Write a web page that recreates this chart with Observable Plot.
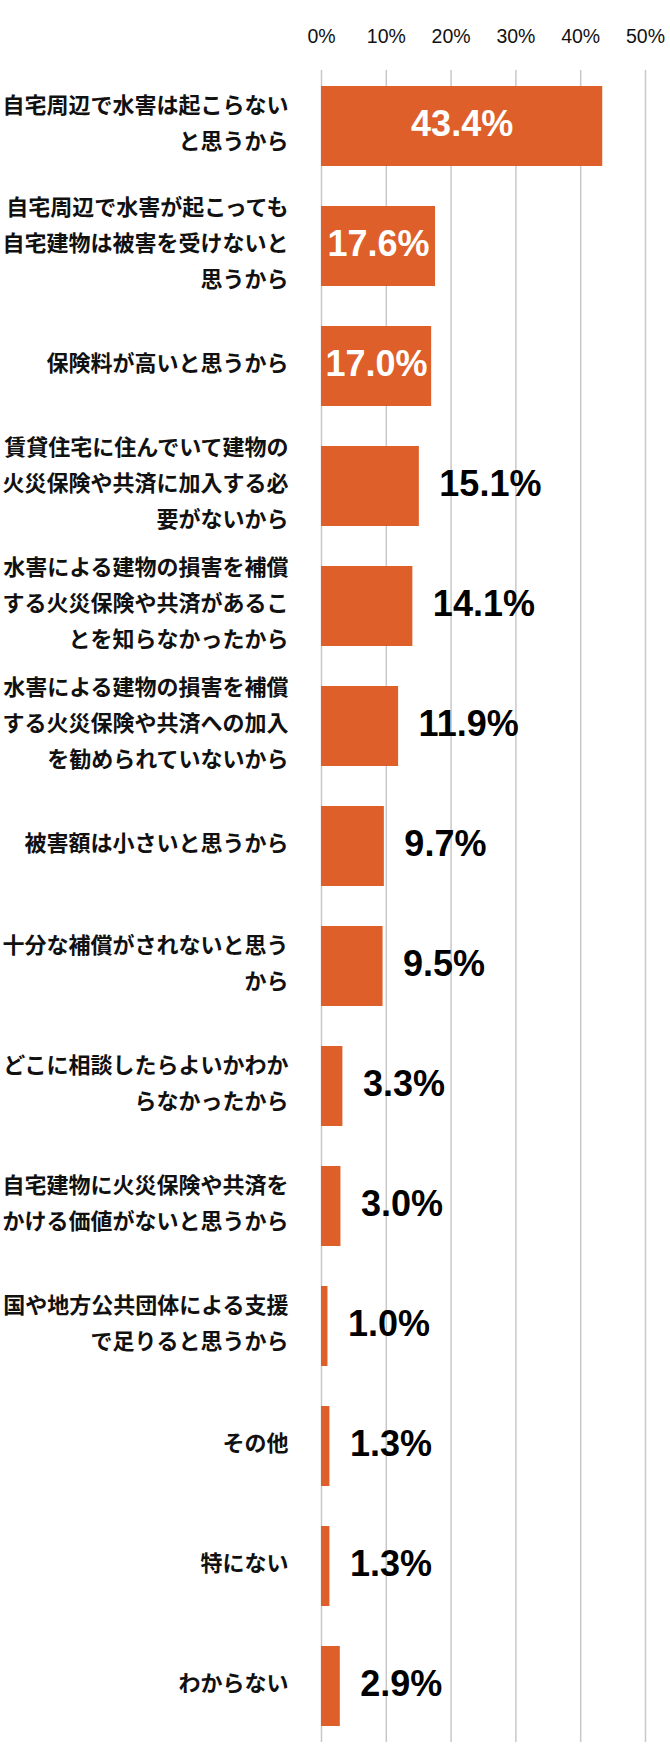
<!DOCTYPE html>
<html>
<head>
<meta charset="utf-8">
<script src="https://cdn.jsdelivr.net/npm/d3@7"></script>
<script src="https://cdn.jsdelivr.net/npm/@observablehq/plot@0.6"></script>
<style>
  html, body { margin: 0; padding: 0; background: #ffffff; }
  #chart svg { display: block; }
</style>
</head>
<body>
<div id="chart"></div>
<script>
const categories = [
  "自宅周辺で水害は起こらない\nと思うから",
  "自宅周辺で水害が起こっても\n自宅建物は被害を受けないと\n思うから",
  "保険料が高いと思うから",
  "賃貸住宅に住んでいて建物の\n火災保険や共済に加入する必\n要がないから",
  "水害による建物の損害を補償\nする火災保険や共済があるこ\nとを知らなかったから",
  "水害による建物の損害を補償\nする火災保険や共済への加入\nを勧められていないから",
  "被害額は小さいと思うから",
  "十分な補償がされないと思う\nから",
  "どこに相談したらよいかわか\nらなかったから",
  "自宅建物に火災保険や共済を\nかける価値がないと思うから",
  "国や地方公共団体による支援\nで足りると思うから",
  "その他",
  "特にない",
  "わからない"
];
const values = [43.4, 17.6, 17.0, 15.1, 14.1, 11.9, 9.7, 9.5, 3.3, 3.0, 1.0, 1.3, 1.3, 2.9];
const ticks = [0, 10, 20, 30, 40, 50];

const data = categories.map((c, i) => ({category: c, value: values[i], label: values[i].toFixed(1) + "%"}));
const inside = data.filter(d => d.value >= 17);
const outside = data.filter(d => d.value < 17);

const chart = Plot.plot({
  width: 670,
  height: 1762,
  marginTop: 70,
  marginBottom: 20,
  marginLeft: 321,
  marginRight: 25,
  style: {background: "#ffffff"},
  x: {domain: [0, 50], axis: null, label: null},
  y: {domain: categories, axis: null, label: null, paddingInner: 0.333, paddingOuter: 0.13},
  marks: [
    Plot.ruleX(ticks, {stroke: "#c8c8c8", strokeWidth: 1.5}),
    Plot.barX(data, {x: "value", y: "category", fill: "#DE5F2A"}),
    Plot.text(inside, {x: d => d.value / 2, y: "category", text: "label", fill: "#ffffff",
      fontSize: 36, fontWeight: "bold", fontFamily: "Liberation Sans, Arial, sans-serif", dy: -2}),
    Plot.text(outside, {x: "value", y: "category", text: "label", textAnchor: "start", dx: 20, dy: -2,
      fill: "#000000", fontSize: 36, fontWeight: "bold", fontFamily: "Liberation Sans, Arial, sans-serif"}),
    Plot.text(data, {x: 0, y: "category", text: "category", textAnchor: "end", dx: -33, dy: -7,
      fontSize: 22, lineHeight: 1.64, fontWeight: "bold", fill: "#111111",
      fontFamily: "'Noto Sans CJK JP', sans-serif"}),
    Plot.axisX({anchor: "top", ticks, tickFormat: d => d + "%", tickSize: 0, tickPadding: 28, label: null,
      fontSize: 19.5, fontFamily: "Liberation Sans, Arial, sans-serif", fill: "#111111"})
  ]
});
document.getElementById("chart").appendChild(chart);
</script>
</body>
</html>
